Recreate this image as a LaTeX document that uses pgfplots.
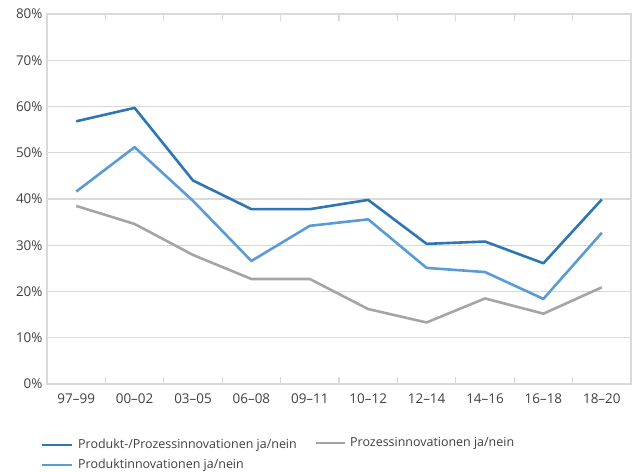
\documentclass[border=0pt]{standalone}
\usepackage{fontspec}
\setmainfont{Open Sans}
\usepackage{pgfplots}
\pgfplotsset{compat=1.18}

\definecolor{darkblue}{HTML}{2E75B6}
\definecolor{midblue}{HTML}{5B9BD5}
\definecolor{linegray}{HTML}{A5A5A5}
\definecolor{gridgray}{HTML}{D9D9D9}
\definecolor{textgray}{HTML}{404040}

\begin{document}
\begin{tikzpicture}[x=1bp,y=1bp]
\begin{axis}[
  at={(0,0)}, anchor=south west,
  scale only axis,
  width=584bp, height=370bp,
  xmin=-0.5, xmax=9.5,
  ymin=0, ymax=80,
  ytick={0,10,...,80},
  yticklabel={\pgfmathprintnumber{\tick}\%},
  xtick={-0.5,0.5,...,9.5},
  x tick label as interval,
  xticklabels={97--99,00--02,03--05,06--08,09--11,10--12,12--14,14--16,16--18,18--20},
  xtick style={gridgray, line width=1.2pt},
  xtick align=inside,
  major tick length=7bp,
  ytick style={draw=none},
  ymajorgrids,
  grid style={gridgray, line width=1.2pt},
  axis line style={gridgray, line width=1.2pt},
  tick label style={font=\fontsize{13.5}{15}\selectfont, text=textgray},
  /pgf/number format/assume math mode=true,
  xticklabel style={yshift=-6bp},
  yticklabel style={xshift=-1bp},
  every axis plot/.append style={line width=2.6bp, line join=round},
  clip=false,
]
\addplot[linegray] coordinates {
  (0,38.5) (1,34.6) (2,27.9) (3,22.7) (4,22.7) (5,16.2) (6,13.3) (7,18.5) (8,15.2) (9,20.9)};
\addplot[midblue] coordinates {
  (0,41.6) (1,51.2) (2,39.6) (3,26.6) (4,34.2) (5,35.6) (6,25.1) (7,24.2) (8,18.4) (9,32.7)};
\addplot[darkblue] coordinates {
  (0,56.8) (1,59.7) (2,44.0) (3,37.8) (4,37.8) (5,39.8) (6,30.3) (7,30.8) (8,26.1) (9,39.9)};
\end{axis}
% legend below the axis
\begin{scope}[font=\fontsize{12.5}{14}\selectfont, text=textgray]
  \draw[darkblue, line width=2.6bp] (-5,-61) -- (25,-61);
  \node[anchor=west, inner sep=0pt] at (31,-61) {Produkt-/Prozessinnovationen ja/nein};
  \draw[midblue, line width=2.6bp] (-5,-81) -- (25,-81);
  \node[anchor=west, inner sep=0pt] at (31,-81) {Produktinnovationen ja/nein};
  \draw[linegray, line width=2.6bp] (269,-59) -- (298,-59);
  \node[anchor=west, inner sep=0pt] at (303,-59) {Prozessinnovationen ja/nein};
\end{scope}
\path[use as bounding box] (-47,-88) rectangle (586,384);
\end{tikzpicture}
\end{document}
